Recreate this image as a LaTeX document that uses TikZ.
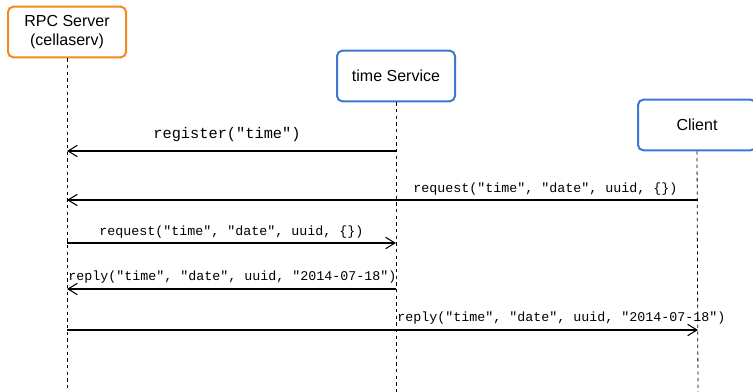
\documentclass[tikz,border=0pt]{standalone}
\usepackage{fontspec}
\setmainfont{Liberation Sans}
\newfontfamily\monofont{Liberation Mono}
\usetikzlibrary{arrows.meta}
\definecolor{boxorange}{HTML}{F2891F}
\definecolor{boxblue}{HTML}{3D78D0}
\tikzset{
  actor/.style={draw, line width=1.5pt, rounded corners=4pt, fill=white, minimum width=88.5pt, minimum height=38pt, align=center, font=\fontsize{12}{14}\selectfont, inner sep=0pt},
  lifeline/.style={draw=black, line width=0.6pt, dash pattern=on 2.5pt off 2.5pt},
  msg/.style={draw=black, line width=0.8pt, -{Straight Barb[length=7pt,width=8.5pt,line width=0.8pt]}},
  msglabel/.style={font=\monofont\fontsize{10}{12}\selectfont, inner sep=0pt},
  biglabel/.style={font=\monofont\fontsize{11.5}{13}\selectfont, inner sep=0pt},
}
\begin{document}
\begin{tikzpicture}[x=0.75pt,y=-0.75pt]
\useasboundingbox (0,0) rectangle (753,392);
\begin{scope}
\clip (0,0) rectangle (753,392);
% lifeline ends
\coordinate (rpcEnd) at (67,392);
\coordinate (timeEnd) at (396,392);
\coordinate (cliEnd) at (698,392);
% actors
\node[actor, draw=boxorange] (rpc) at (67,32) {RPC Server\\(cellaserv)};
\node[actor, draw=boxblue] (time) at (396,76) {time Service};
\node[actor, draw=boxblue] (cli) at (697,125) {Client};
% lifelines
\draw[lifeline] (rpc.south) -- (rpcEnd);
\draw[lifeline] (time.south) -- (timeEnd);
\draw[lifeline] (cli.south) -- (cliEnd);
% message anchor points
\coordinate (r1) at (67,151);  \coordinate (t1) at (396,151);
\coordinate (r2) at (67,200);  \coordinate (c2) at (698,200);
\coordinate (r3) at (67,243);  \coordinate (t3) at (396,243);
\coordinate (r4) at (67,289);  \coordinate (t4) at (396,289);
\coordinate (r5) at (67,330);  \coordinate (c5) at (698,330);
% messages
\draw[msg] (t1) -- (r1);
\node[biglabel] (l1) at (227,135) {register("time")};
\draw[msg] (c2) -- (r2);
\node[msglabel] (l2) at (545.5,189) {request("time", "date", uuid, \{\})};
\draw[msg] (r3) -- (t3);
\node[msglabel] (l3) at (231.5,232) {request("time", "date", uuid, \{\})};
\draw[msg] (t4) -- (r4);
\node[msglabel] (l4) at (232.5,277) {reply("time", "date", uuid, "2014-07-18")};
\draw[msg] (r5) -- (c5);
\node[msglabel] (l5) at (561.5,318) {reply("time", "date", uuid, "2014-07-18")};
\end{scope}
\end{tikzpicture}
\end{document}
